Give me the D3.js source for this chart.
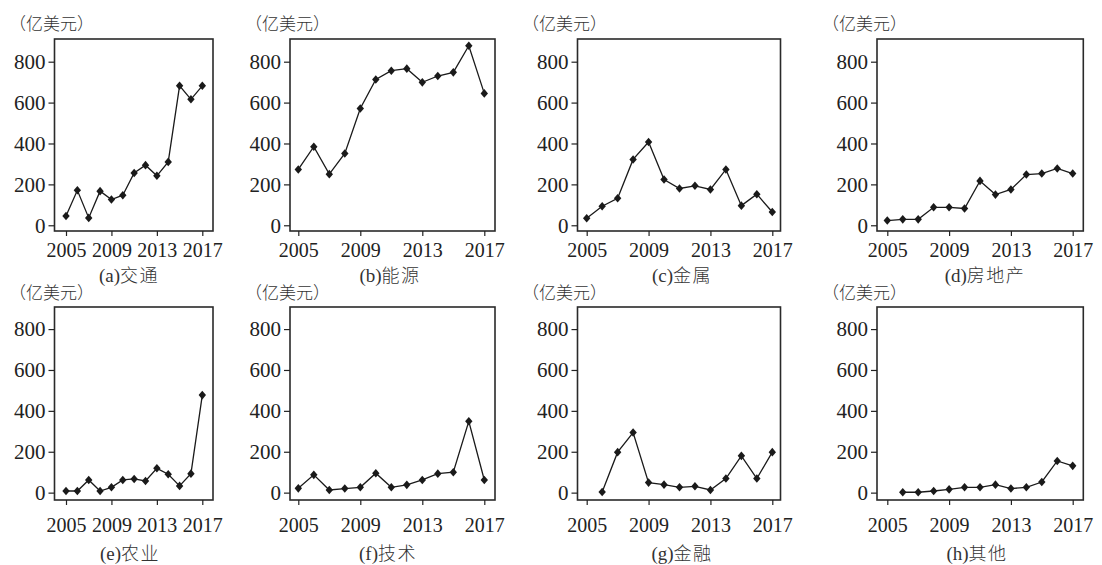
<!DOCTYPE html>
<html><head><meta charset="utf-8">
<script src="https://cdn.jsdelivr.net/npm/d3@7"></script>
<style>body{margin:0;background:#fff}svg{display:block}</style>
</head><body>
<svg id="chart" width="1102" height="565"></svg>
<script>
// ---- data ----
const years = [2005,2006,2007,2008,2009,2010,2011,2012,2013,2014,2015,2016,2017];
const yTicks = [0,200,400,600,800];
const xTicks = [2005,2009,2013,2017];
const unitLabel = "（亿美元）";
const letters = ["(a)","(b)","(c)","(d)","(e)","(f)","(g)","(h)"];
const sectors = ["交通","能源","金属","房地产","农业","技术","金融","其他"];
const transport  = [45,171,36,167,126,147,256,294,242,310,682,616,682];
const energy     = [273,384,250,351,571,713,756,766,699,730,748,878,645];
const metals     = [34,93,132,322,407,224,180,193,175,273,96,152,65];
const realEstate = [23,29,29,88,88,82,217,150,175,248,253,278,253];
const agriculture= [8,8,62,8,26,62,67,57,119,90,33,93,477];
const technology = [21,87,13,20,26,95,26,38,62,93,100,349,62];
const finance    = [null,3,198,294,49,39,26,31,13,69,180,69,198];
const other      = [null,2,2,8,16,26,26,39,20,26,52,155,131];
const seriesList = [transport,energy,metals,realEstate,agriculture,technology,finance,other];

// ---- layout ----
const colFrame = [[54.5,213],[290,495],[577.5,780.5],[877,1083.3]];
const colXRange = [[66,202.3],[298.3,484.3],[586.7,772.3],[887.3,1072.7]];
const rowFrame = [[39,231],[307,500]];
const rowYDomain = [[-28,911],[-36,908]];
const rowUnitY = [24,293];
const rowXLabY = [250,525];
const rowTitleY = [276.5,554];
const colUnitX = [9,245,522,822];
const titleX = [[129,390,682,985],[130,388,682,977]];

const svg = d3.select("#chart");
const serif = "'Liberation Serif','DejaVu Serif',serif";
const cjk = "'Noto Sans CJK SC','Noto Sans',sans-serif";
const ink = "#222";

const diamond = {draw(ctx,size){const w=3.7,h=4.3;ctx.moveTo(0,-h);ctx.lineTo(w,0);ctx.lineTo(0,h);ctx.lineTo(-w,0);ctx.closePath();}};

seriesList.forEach((vals,i)=>{
  const r = Math.floor(i/4), c = i%4;
  const [fl,fr] = colFrame[c];
  const [ft,fb] = rowFrame[r];
  const x = d3.scaleLinear().domain([2005,2017]).range(colXRange[c]);
  const y = d3.scaleLinear().domain(rowYDomain[r]).range([fb,ft]);
  const g = svg.append("g");

  // frame
  g.append("rect").attr("x",fl).attr("y",ft).attr("width",fr-fl).attr("height",fb-ft)
    .attr("fill","none").attr("stroke","#2a2a2a").attr("stroke-width",1.6);

  // y axis
  const ya = g.append("g").attr("transform",`translate(${fl},0)`)
    .call(d3.axisLeft(y).tickValues(yTicks).tickSize(6).tickPadding(3));
  ya.select(".domain").remove();
  ya.selectAll("line").attr("stroke",ink).attr("stroke-width",1.2);
  ya.selectAll("text").attr("font-family",serif).attr("font-size",21).attr("fill",ink);

  // x axis
  const xa = g.append("g").attr("transform",`translate(0,${fb})`)
    .call(d3.axisBottom(x).tickValues(xTicks).tickFormat(d3.format("d")).tickSize(5).tickPadding(0));
  xa.select(".domain").remove();
  xa.selectAll("line").attr("stroke",ink).attr("stroke-width",1.2);
  xa.selectAll("text").attr("font-family",serif).attr("font-size",20).attr("fill",ink)
    .attr("y", rowXLabY[r]-fb).attr("dy","0.35em");

  // line
  const data = years.map((yr,k)=>({yr,v:vals[k]}));
  g.append("path").datum(data)
    .attr("fill","none").attr("stroke","#1a1a1a").attr("stroke-width",1.3)
    .attr("d", d3.line().defined(d=>d.v!=null).x(d=>x(d.yr)).y(d=>y(d.v)));
  g.selectAll(".pt").data(data.filter(d=>d.v!=null)).enter().append("path")
    .attr("transform",d=>`translate(${x(d.yr)},${y(d.v)})`)
    .attr("d", d3.symbol().type(diamond)()).attr("fill","#1a1a1a");

  // unit label
  g.append("text").attr("x",colUnitX[c]).attr("y",rowUnitY[r]).attr("dy","0.35em")
    .attr("font-family",cjk).attr("font-size",17).attr("font-weight",300).attr("fill","#333").text(unitLabel);

  // title
  const t = g.append("text").attr("x",titleX[r][c]).attr("y",rowTitleY[r]).attr("dy","0.35em")
    .attr("text-anchor","middle").attr("fill","#333");
  t.append("tspan").attr("font-family",serif).attr("font-size",19).text(letters[i]);
  t.append("tspan").attr("font-family",cjk).attr("font-size",18).attr("font-weight",300).attr("letter-spacing",1.5).text(sectors[i]);
});
</script>
</body></html>
